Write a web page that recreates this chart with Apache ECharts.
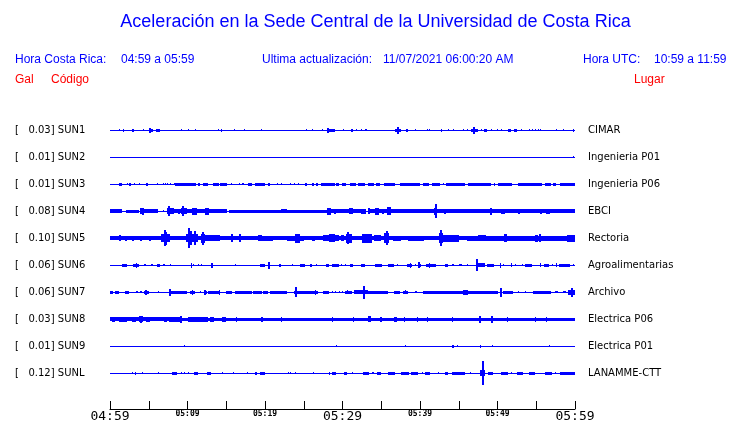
<!DOCTYPE html>
<html>
<head>
<meta charset="utf-8">
<script src="https://cdn.jsdelivr.net/npm/echarts@6/dist/echarts.min.js"></script>
<style>
html,body{margin:0;padding:0;background:#fff;}
#chart{width:740px;height:423px;}
</style>
</head>
<body>
<div id="chart"></div>
<script>
// ---------- data ----------
const codes = ['SUN1','SUN2','SUN3','SUN4','SUN5','SUN6','SUN7','SUN8','SUN9','SUNL'];
const galValues = ['0.03','0.01','0.01','0.08','0.10','0.06','0.06','0.03','0.01','0.12'];
const places = ['CIMAR','Ingenieria P01','Ingenieria P06','EBCI','Rectoria','Agroalimentarias','Archivo','Electrica P06','Electrica P01','LANAMME-CTT'];
const tickLabels = ['04:59','05:09','05:19','05:29','05:39','05:49','05:59'];
const titleText = 'Aceleración en la Sede Central de la Universidad de Costa Rica';
const localTimeRange = '04:59 a 05:59';
const utcTimeRange = '10:59 a 11:59';
const lastUpdate = '11/07/2021 06:00:20 AM';

// trace envelopes: [start minute, end minute, half amplitude (row = 27 units)]
const sun1 = [[0,60,0.5],
 [1.1,1.1,1.0],[1.7,1.7,1.3],[2.8,3.1,1.3],[4.3,4.3,0.8],
 [5.1,5.1,2.7],[5.1,5.5,1.6],[5.9,6.4,1.6],
 [9.2,9.2,0.8],[10.1,10.1,0.8],[11.0,11.0,0.9],
 [13.9,13.9,1.0],[14.3,14.5,1.3],[16.0,16.0,1.0],[17.3,17.3,0.8],[19.5,19.5,0.8],
 [25.3,25.3,0.8],[26.0,26.0,1.0],[27.4,27.4,1.0],[28.0,29.0,1.6],[28.1,28.1,2.7],
 [30.0,30.0,1.0],[31.1,31.4,1.5],[31.7,31.7,0.8],[32.4,32.4,1.0],[32.9,33.2,1.2],
 [36.8,37.6,1.7],[37.1,37.1,3.3],[38.2,38.4,1.4],
 [39.4,39.4,1.1],[40.9,40.9,1.0],[41.2,41.2,0.8],[42.7,42.9,1.3],[43.6,43.6,0.8],[44.2,44.2,1.0],
 [45.6,45.6,1.0],[46.1,46.1,1.0],[46.6,47.5,1.7],[47.0,47.0,3.3],
 [47.9,47.9,0.8],[48.3,48.6,1.3],[49.2,49.2,1.0],[49.9,49.9,1.0],[50.4,50.4,0.8],
 [51.4,51.7,1.3],[52.1,52.5,1.5],[53.0,53.0,0.8],[54.0,54.0,1.0],[54.4,54.4,0.8],[54.9,54.9,1.0],[55.2,55.2,0.8],[55.5,55.5,1.0],
 [57.6,57.6,1.0],[58.5,58.5,1.0],[59.8,59.8,1.3]];
const sun2 = [[0,60,0.5],[59.7,59.7,0.8]];
const sun3 = [[0,60,0.5],
 [1.1,1.5,1.3],[2.2,2.2,1.0],[2.5,2.7,1.3],[3.1,3.1,1.0],[3.8,3.8,1.0],[4.6,4.9,1.3],
 [6.0,6.2,1.2],[6.8,6.8,1.0],[7.1,7.1,1.0],[7.4,7.4,1.0],[7.8,7.8,1.0],[8.2,8.2,1.0],
 [8.4,11.1,1.5],[11.4,11.6,1.3],[12.0,12.7,1.3],[13.3,14.0,1.3],[14.2,15.1,1.3],[15.6,15.6,1.0],
 [16.6,16.6,1.0],[17.0,17.0,1.0],[17.2,17.2,1.0],[17.8,18.3,1.5],[18.7,20.0,1.3],[20.4,20.6,1.3],
 [21.5,21.7,1.0],[22.1,22.1,1.0],[23.2,23.2,1.0],[23.8,23.8,1.0],[24.3,24.3,1.0],
 [25.1,25.4,1.3],[26.0,26.3,1.3],[26.6,26.9,1.3],[27.2,29.0,1.5],[29.2,29.5,1.3],[29.9,30.5,1.5],[31.0,31.8,1.5],
 [32.0,32.9,1.5],[33.3,34.0,1.5],[34.3,34.8,1.5],[35.3,36.8,1.5],[37.4,40.0,1.5],[40.4,41.1,1.3],[41.5,42.6,1.5],
 [43.0,43.0,1.0],[43.4,45.8,1.5],[46.2,49.2,1.5],[49.5,49.7,1.3],[50.0,51.9,1.5],[52.6,55.8,1.5],[56.1,56.9,1.5],
 [57.2,57.6,1.3],[58.0,60.0,1.5]];
const sun4 = [[0,60,0.5],
 [0,1.6,2.0],[2.0,3.7,1.6],[4.0,4.0,3.0],[4.2,4.2,3.3],[4.3,6.2,2.0],[6.8,6.8,1.0],
 [7.3,8.2,3.0],[7.6,7.6,5.0],[8.2,9.2,2.0],[8.9,8.9,2.7],[9.2,9.9,3.0],[9.4,9.4,5.0],[9.9,10.6,2.0],
 [10.6,11.2,3.3],[11.2,12.3,2.0],[12.3,12.8,3.3],[12.8,15.1,2.0],[15.3,22.1,1.6],[22.1,22.8,1.8],[22.8,28.0,1.6],
 [28.0,28.5,3.3],[28.5,31.0,2.0],[29.0,29.0,2.7],[30.8,31.4,3.0],[31.4,32.4,2.0],
 [32.4,33.0,2.7],[33.3,33.6,3.0],[33.6,34.2,2.0],[34.2,34.7,3.3],[34.7,42.0,2.0],[35.1,35.3,2.7],[35.8,36.2,4.0],
 [41.8,42.1,3.5],[42.0,42.0,7.0],[42.1,60,2.0],[43.1,43.3,2.7],[49.1,49.1,3.3],[50.5,51.0,2.5],[52.8,52.8,2.7],
 [55.6,55.6,2.7],[56.3,56.8,2.5]];
const sun5 = [[0,60,0.5],[0,46.0,1.8],
 [1.1,1.3,3.0],[2.0,2.0,2.5],[3.0,3.0,2.5],[4.0,4.0,2.7],[5.0,5.2,2.5],
 [6.6,7.7,4.0],[7.0,7.3,6.5],[7.1,7.1,8.0],
 [9.8,11.4,4.0],[10.3,10.6,7.0],[10.2,10.2,10.0],[11.0,11.0,7.0],
 [11.8,12.3,4.5],[12.0,12.0,6.7],[12.3,14.2,3.0],
 [15.6,15.9,4.0],[16.7,16.8,4.0],
 [19.1,19.6,3.0],[19.6,21.0,2.5],[22.9,25.0,2.7],[23.9,24.5,4.5],[26.0,26.5,2.5],
 [27.5,29.5,3.0],[28.2,29.0,4.0],[29.8,30.2,3.0],[30.4,31.2,4.5],[30.6,30.7,6.0],
 [32.5,33.8,4.5],[34.0,35.0,3.0],[35.4,36.0,5.0],[35.7,35.7,7.0],[36.5,37.5,2.7],
 [38.5,40.5,2.5],[42.4,43.0,5.0],[42.7,42.7,8.0],[43.0,45.0,3.5],
 [46.0,60,2.3],[47.5,48.5,3.0],[50.9,51.2,4.0],[54.8,55.2,3.5],[55.5,55.5,4.0],[59.0,60,3.3]];
const sun6 = [[0,60,0.5],
 [1.5,2.2,1.5],[3.0,3.8,1.3],[3.3,3.3,2.3],[4.4,4.6,1.2],[5.3,5.6,1.2],[6.1,6.5,1.3],[6.9,7.1,1.2],[7.8,7.8,1.0],
 [10.5,10.5,2.3],[10.7,10.9,1.2],[11.4,11.4,1.0],[11.8,11.8,1.2],[13.0,13.3,1.5],[13.1,13.1,2.7],
 [16.1,16.1,1.0],[19.4,20.0,1.5],[20.4,20.7,2.0],[20.5,20.5,3.5],[21.8,22.0,1.5],
 [23.5,23.5,1.0],[24.5,25.2,1.3],[25.8,26.0,1.3],[26.6,26.6,1.0],
 [27.9,28.3,1.3],[28.6,29.5,1.3],[29.8,29.8,1.0],[30.3,30.3,1.0],[31.0,31.4,1.3],
 [32.4,32.9,1.5],[34.2,35.1,1.3],[35.9,36.7,1.5],[37.0,37.0,1.0],
 [38.3,39.0,1.3],[38.7,38.7,2.3],[39.4,39.4,1.0],[39.8,40.1,1.3],[39.9,39.9,3.0],
 [40.8,42.1,1.3],[41.2,41.2,2.3],[43.2,43.6,1.3],[44.1,44.4,1.0],[45.0,45.4,1.2],[46.1,46.1,1.0],
 [47.2,48.4,2.0],[47.4,47.4,6.0],[48.6,49.5,1.5],[50.3,50.3,2.3],[50.7,50.9,1.2],[51.8,51.8,2.0],[52.2,52.2,1.0],
 [53.1,53.1,1.0],[53.6,54.5,1.5],[55.5,55.5,2.0],[56.0,56.7,1.3],[57.0,57.2,1.0],[57.6,57.6,2.0],[57.9,59.3,1.3],[59.8,59.8,1.0]];
const sun7 = [[0,60,0.5],
 [0,0.4,1.5],[0.6,1.2,1.5],[1.9,2.4,1.3],[3.4,3.6,1.2],[3.9,4.1,1.2],[4.4,5.0,1.5],[4.6,4.6,2.7],
 [6.2,6.2,1.0],[7.6,8.2,1.5],[7.8,7.8,3.5],[8.2,9.9,1.3],[10.3,11.0,1.5],[10.6,10.6,2.3],
 [11.6,11.6,1.0],[12.2,12.5,1.5],[12.3,12.3,2.7],[12.7,14.2,1.5],[14.0,14.0,2.3],
 [15.0,15.8,1.3],[16.1,18.3,1.3],[18.5,19.6,1.3],[19.8,20.4,1.3],[20.6,22.8,1.3],
 [23.8,24.2,1.5],[24.0,24.0,5.0],[24.3,26.9,1.5],[26.5,26.5,2.3],[27.5,28.2,1.3],
 [28.6,28.6,1.0],[29.0,29.0,1.0],[29.5,29.5,1.0],[29.9,29.9,1.0],[30.3,31.2,1.5],[30.6,30.6,2.0],
 [31.5,33.3,1.8],[32.8,32.8,6.7],[33.3,35.9,1.5],[36.6,37.4,1.3],[37.8,38.5,1.5],[38.1,38.1,2.0],[39.3,39.6,1.2],
 [40.4,45.6,1.5],[45.6,46.2,2.3],[46.2,50.0,1.5],[50.3,50.5,2.0],[50.4,50.4,4.3],
 [50.7,52.0,1.3],[52.7,52.7,1.0],[53.6,53.6,1.0],[54.6,56.9,1.3],[57.4,57.8,1.0],[58.4,58.8,1.2],[59.1,60,2.5],[59.6,59.6,4.5]];
const sun8 = [[0,60,0.5],
 [0,8.4,2.0],[8.4,60,1.6],
 [0.3,0.6,2.5],[1.2,2.2,2.7],[2.8,3.4,2.5],[3.7,4.3,3.0],[4.0,4.0,3.5],[4.6,5.2,2.5],
 [7.0,7.4,2.5],[7.6,9.0,2.7],[9.1,9.1,3.5],[10.0,12.7,2.5],[12.9,13.4,2.5],[14.4,14.6,2.5],[14.8,14.8,2.7],[16.3,16.3,2.3],
 [19.6,19.6,2.5],[22.0,22.0,2.3],[28.7,28.7,2.3],[31.3,31.3,2.3],[33.3,33.7,3.0],[35.0,35.0,2.5],[36.6,37.0,2.7],
 [37.9,37.9,2.3],[39.6,39.6,2.3],[40.9,40.9,2.3],[44.1,44.1,2.3],[47.7,47.7,3.7],[49.3,49.3,3.5],[51.2,51.2,2.3],
 [54.8,54.8,2.3],[56.3,56.3,2.3]];
const sun9 = [[0,60,0.5],
 [9.5,9.5,0.8],[29.2,29.2,1.0],[38.1,38.1,0.8],[44.1,44.4,1.3],[44.8,44.8,0.8],[47.7,47.9,1.3],[49.3,49.3,1.0],[56.6,56.6,1.0]];
const sunL = [[0,60,0.5],
 [2.8,2.8,1.0],[3.2,3.3,1.3],[4.1,4.1,0.8],[6.2,6.2,0.8],
 [8.0,8.7,1.3],[9.2,9.2,1.0],[9.5,9.5,0.8],[10.1,10.1,1.0],[10.9,11.3,1.3],[12.5,13.0,1.3],[14.5,14.5,1.0],
 [15.9,15.9,0.8],[17.7,17.7,1.0],[18.7,19.0,1.3],[19.4,20.0,1.3],
 [23.0,23.0,0.8],[23.2,23.2,0.8],[23.9,23.9,1.0],[26.2,26.2,0.8],
 [28.2,28.4,1.3],[28.7,29.2,1.3],[30.2,30.6,1.3],[31.2,31.2,1.0],[32.7,33.4,1.3],[33.8,34.1,1.0],[34.4,35.0,1.3],
 [35.9,36.8,1.3],[37.5,38.6,1.3],[38.8,39.8,1.3],[40.2,40.4,1.0],[40.6,41.3,1.3],[42.3,42.3,1.0],[43.2,43.6,1.3],
 [44.1,45.8,1.3],[46.5,46.5,1.0],
 [47.7,48.4,3.0],[48.1,48.1,12.0],[48.8,49.4,1.3],[50.5,51.4,1.3],[51.7,51.7,1.0],[52.5,53.3,1.3],[54.0,54.8,1.3],
 [56.1,57.0,1.3],[57.4,57.4,1.0],[58.0,60,1.3]];
const traces = [sun1, sun2, sun3, sun4, sun5, sun6, sun7, sun8, sun9, sunL];
const ROW_UNITS = 27;

// ---------- chart ----------
const BLUE = '#0000ff';
const seriesData = [];
traces.forEach((events, row) => events.forEach(ev => seriesData.push([ev[0], ev[1], ev[2], row])));

const chart = echarts.init(document.getElementById('chart'), null, {renderer: 'canvas'});
const txt = (x, y, text, color, opts) => ({
  type: 'text', x: x, y: y, silent: true,
  style: Object.assign({text: text, fill: color, fontSize: 12, fontFamily: '"Liberation Sans", Arial, sans-serif',
    verticalAlign: 'middle', align: 'left'}, opts || {})
});

chart.setOption({
  animation: false,
  backgroundColor: '#ffffff',
  grid: {left: 110, right: 165, top: 116.5, bottom: 36.5, containLabel: false},
  xAxis: {
    type: 'value', min: 0, max: 60, interval: 5, position: 'bottom', offset: 22.5,
    axisLine: {show: true, onZero: false, lineStyle: {color: '#000', width: 1}},
    axisTick: {show: true, inside: true, length: 8, lineStyle: {color: '#000', width: 1}},
    splitLine: {show: false},
    axisLabel: {
      show: true, margin: 1, hideOverlap: false, showMinLabel: true, showMaxLabel: true, color: '#000',
      formatter: function (v) {
        if (v % 10 !== 0) return '';
        const lab = tickLabels[v / 10];
        return (v % 30 === 0) ? '{big|' + lab + '}' : '{small|' + lab + '}';
      },
      rich: {
        big: {fontFamily: '"DejaVu Sans Mono", monospace', fontSize: 13, color: '#000'},
        small: {fontFamily: '"DejaVu Sans Mono", monospace', fontSize: 8, fontWeight: 'bold', color: '#000'}
      }
    }
  },
  yAxis: [{
    type: 'category', data: codes, inverse: true, position: 'left',
    axisLine: {show: false}, axisTick: {show: false}, splitLine: {show: false},
    axisLabel: {
      interval: 0, align: 'left', margin: 95, color: '#000',
      fontFamily: '"DejaVu Sans", sans-serif', fontSize: 10,
      formatter: function (code, idx) { return '[   ' + galValues[idx] + '] ' + code; }
    }
  }, {
    type: 'category', data: places, inverse: true, position: 'right',
    axisLine: {show: false}, axisTick: {show: false}, splitLine: {show: false},
    axisLabel: {interval: 0, align: 'left', margin: 13, color: '#000',
      fontFamily: '"DejaVu Sans", sans-serif', fontSize: 10}
  }],
  series: [{
    type: 'custom',
    xAxisIndex: 0, yAxisIndex: 0,
    encode: {x: [0, 1], y: 3},
    data: seriesData,
    clip: false,
    renderItem: function (params, api) {
      const s = api.value(0), e = api.value(1), a = api.value(2), row = api.value(3);
      const p1 = api.coord([s, row]);
      const p2 = api.coord([e, row]);
      const band = api.size([0, 1])[1];
      const h = a / ROW_UNITS * band * 2;
      const minW = (a >= 2.5) ? 2 : 1;
      const x = Math.round(p1[0]) - (minW > 1 && e === s ? 1 : 0);
      const w = Math.max(minW, Math.round(p2[0]) - x);
      const hh = Math.max(1, Math.round(h));
      const y = Math.round(p1[1] - hh / 2);
      return {type: 'rect', shape: {x: x, y: y, width: w, height: hh}, style: {fill: BLUE}};
    }
  }],
  graphic: [
    txt(375.5, 22, titleText, BLUE, {fontSize: 18, align: 'center'}),
    txt(15, 60, 'Hora Costa Rica:', BLUE),
    txt(121, 60, localTimeRange, BLUE),
    txt(262, 60, 'Ultima actualización:', BLUE),
    txt(383, 60, lastUpdate, BLUE),
    txt(583, 60, 'Hora UTC:', BLUE),
    txt(654, 60, utcTimeRange, BLUE),
    txt(15, 80, 'Gal', '#ff0000'),
    txt(51, 80, 'Código', '#ff0000'),
    txt(634, 80, 'Lugar', '#ff0000')
  ]
});
</script>
</body>
</html>
